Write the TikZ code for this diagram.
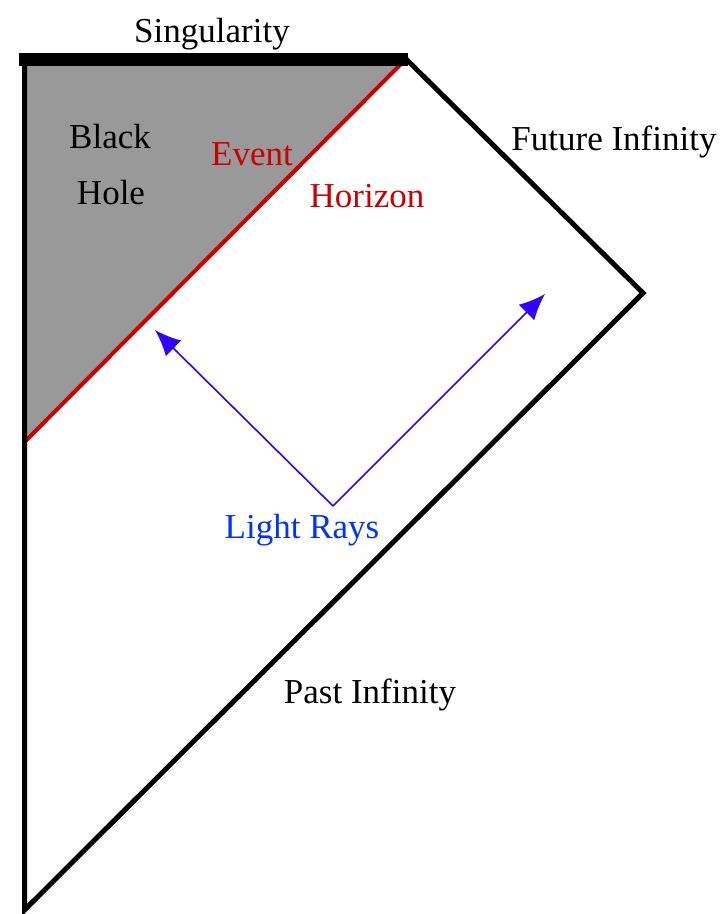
\documentclass[tikz,border=0pt]{standalone}
\usepackage{fontspec}
\setmainfont{Liberation Serif}
\usepackage{xcolor}
\usetikzlibrary{arrows.meta}
\definecolor{bhgray}{HTML}{999999}
\definecolor{horizonred}{HTML}{CC0000}
\definecolor{rayblue}{HTML}{3300FF}
\definecolor{labelblue}{HTML}{0033FF}
\tikzset{
  lbl/.style={anchor=base, inner sep=0pt, font=\fontsize{35}{40}\selectfont},
  edge/.style={line width=5pt, line join=miter},
  ray/.style={rayblue, line width=1.6pt, -{Latex[length=26pt,width=22pt]}}
}

\begin{document}
\begin{tikzpicture}[x=1pt,y=-1pt]
\useasboundingbox (0,0) rectangle (725,914);
% corners of the diagram
\coordinate (sl) at (24.5,59);
\coordinate (sr) at (406,59);
\coordinate (fi) at (643,293);
\coordinate (pb) at (24.5,910);
\coordinate (eh) at (24.5,442);
\coordinate (ap) at (333,506);
\coordinate (tl) at (155,330);
\coordinate (tr) at (545,294);
% black hole region
\fill[bhgray] (sl) -- (sr) -- (eh) -- cycle;
\draw[horizonred, line width=4pt] (sr) -- (eh);
% boundary
\draw[edge] (sr) -- (fi) -- (pb) -- (sl);
\draw[line width=13pt] (19,59) -- (408,59);
% light rays
\draw[ray] (ap) -- (tl);
\draw[ray] (ap) -- (tr);
% labels
\node[lbl] (sing) at (212,42) {Singularity};
\node[lbl] (black) at (110,148) {Black};
\node[lbl] (hole) at (111,204) {Hole};
\node[lbl, horizonred] (event) at (252,165) {Event};
\node[lbl, horizonred] (horizon) at (367,207) {Horizon};
\node[lbl] (future) at (614,150) {Future Infinity};
\node[lbl, labelblue] (rays) at (302,538) {Light Rays};
\node[lbl] (past) at (370,703) {Past Infinity};
\end{tikzpicture}
\end{document}
